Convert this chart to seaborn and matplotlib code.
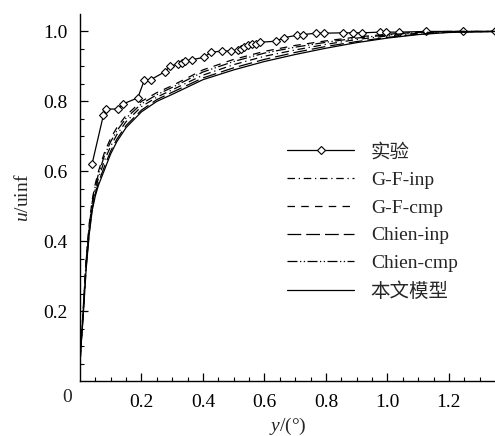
import pandas as pd
import matplotlib
matplotlib.use("Agg")
import matplotlib.pyplot as plt
import seaborn as sns
import numpy as np

# experimental points
exp_x = [0.039, 0.076, 0.084, 0.125, 0.141, 0.188, 0.209, 0.230, 0.275, 0.293,
         0.320, 0.331, 0.341, 0.364, 0.403, 0.425, 0.461, 0.490, 0.515, 0.524,
         0.535, 0.547, 0.558, 0.572, 0.585, 0.637, 0.663, 0.705, 0.726, 0.767,
         0.793, 0.856, 0.887, 0.916, 0.976, 0.995, 1.038, 1.127, 1.246, 1.350]
exp_u = [0.620, 0.760, 0.778, 0.778, 0.793, 0.810, 0.860, 0.862, 0.884, 0.900,
         0.908, 0.911, 0.915, 0.919, 0.926, 0.940, 0.944, 0.944, 0.946, 0.951,
         0.956, 0.960, 0.963, 0.963, 0.969, 0.972, 0.982, 0.989, 0.991, 0.995,
         0.995, 0.996, 0.996, 0.996, 0.998, 0.998, 0.998, 1.000, 1.000, 1.000]

# model curves, shared x grid
y_grid = [0.0, 0.005, 0.01, 0.02, 0.03, 0.04, 0.05, 0.06, 0.08, 0.10, 0.12, 0.15,
          0.20, 0.25, 0.30, 0.40, 0.50, 0.60, 0.70, 0.80, 0.90, 1.00, 1.10, 1.20, 1.35]
gf_inp = [0.05, 0.125, 0.19, 0.335, 0.435, 0.505, 0.548, 0.58, 0.632, 0.672, 0.705, 0.742,
          0.785, 0.812, 0.833, 0.875, 0.905, 0.929, 0.947, 0.963, 0.977, 0.987, 0.995, 0.999, 1.0]
gf_cmp = [0.05, 0.13, 0.20, 0.35, 0.45, 0.52, 0.565, 0.60, 0.655, 0.695, 0.725, 0.76,
          0.80, 0.825, 0.845, 0.89, 0.92, 0.943, 0.96, 0.973, 0.984, 0.992, 0.998, 1.0, 1.0]
chien_inp = [0.05, 0.122, 0.185, 0.325, 0.425, 0.495, 0.537, 0.568, 0.615, 0.658, 0.692, 0.731,
             0.775, 0.805, 0.826, 0.867, 0.896, 0.92, 0.94, 0.957, 0.971, 0.983, 0.992, 0.998, 1.0]
chien_cmp = [0.05, 0.128, 0.195, 0.345, 0.443, 0.513, 0.558, 0.592, 0.646, 0.685, 0.716, 0.752,
             0.793, 0.819, 0.84, 0.884, 0.914, 0.938, 0.955, 0.969, 0.981, 0.99, 0.997, 1.0, 1.0]
model = [0.05, 0.12, 0.18, 0.32, 0.42, 0.49, 0.53, 0.56, 0.605, 0.65, 0.685, 0.725,
         0.77, 0.80, 0.82, 0.862, 0.89, 0.914, 0.934, 0.952, 0.968, 0.981, 0.991, 0.997, 1.0]

sns.set_style("ticks")
plt.rcParams['font.family'] = ['Liberation Serif', 'Noto Sans CJK SC']
plt.rcParams['mathtext.fontset'] = 'custom'
plt.rcParams['mathtext.rm'] = 'Liberation Serif'
plt.rcParams['mathtext.it'] = 'Liberation Serif:italic'

fig = plt.figure(figsize=(4.95, 4.36), dpi=100)
ax = fig.add_axes([0.1616, 0.126, 0.8384, 0.842])

lw = 0.9
sns.lineplot(x=exp_x, y=exp_u, ax=ax, color='black', lw=lw, marker='D', markersize=4.5,
             markerfacecolor='white', markeredgecolor='black', markeredgewidth=0.8,
             label='实验')
sns.lineplot(x=y_grid, y=gf_inp, ax=ax, color='black', lw=lw,
             linestyle=(0, (6, 3, 1, 3)), label='G-F-inp')
sns.lineplot(x=y_grid, y=gf_cmp, ax=ax, color='black', lw=lw,
             linestyle=(0, (6, 5)), label='G-F-cmp')
sns.lineplot(x=y_grid, y=chien_inp, ax=ax, color='black', lw=lw,
             linestyle=(0, (11, 4)), label='Chien-inp')
sns.lineplot(x=y_grid, y=chien_cmp, ax=ax, color='black', lw=lw,
             linestyle=(0, (8, 2, 1, 2, 1, 2)), label='Chien-cmp')
sns.lineplot(x=y_grid, y=model, ax=ax, color='black', lw=lw, label='本文模型')

ax.set_xlim(0, 1.35)
ax.set_ylim(0, 1.05)
sns.despine(ax=ax)
for s in ['left', 'bottom']:
    ax.spines[s].set_linewidth(1.0)
    ax.spines[s].set_color('black')

ax.set_xticks([0.2, 0.4, 0.6, 0.8, 1.0, 1.2])
ax.set_xticklabels(['0.2', '0.4', '0.6', '0.8', '1.0', '1.2'])
ax.set_yticks([0.2, 0.4, 0.6, 0.8, 1.0])
ax.set_yticklabels(['0.2', '0.4', '0.6', '0.8', '1.0'])
ax.set_xticks(np.arange(0.05, 1.35, 0.05), minor=True)
ax.set_yticks(np.arange(0.05, 1.05, 0.05), minor=True)
ax.tick_params(which='both', direction='in', colors='black', labelsize=14)
ax.tick_params(which='major', length=6, width=0.9, pad=9)
ax.tick_params(which='minor', length=3, width=0.8)
ax.text(-0.03, -0.045, '0', transform=ax.transAxes, fontsize=14, ha='center', va='center')

ax.set_xlabel('$y$/(°)', fontsize=14, labelpad=4)
ax.set_ylabel('$u$/uinf', fontsize=14, labelpad=8)

ax.legend(loc='upper left', bbox_to_anchor=(0.457, 0.695), frameon=False, fontsize=14,
          handlelength=3.45, handletextpad=0.85, labelspacing=0.52)

fig.savefig('out.png', dpi=100)
